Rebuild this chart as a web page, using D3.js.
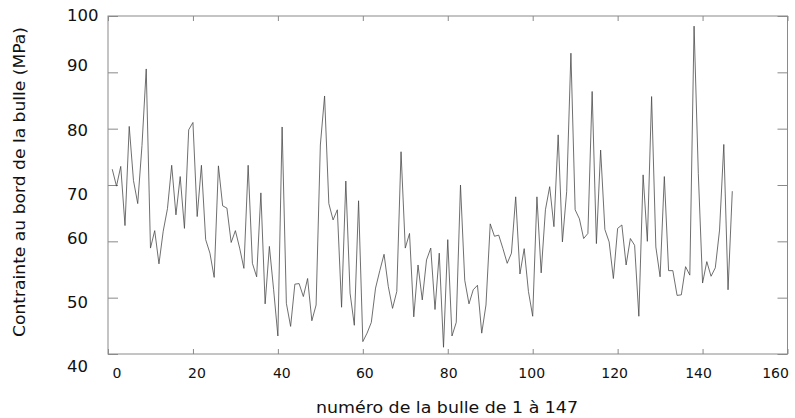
<!DOCTYPE html>
<html>
<head>
<meta charset="utf-8">
<script src="https://cdn.jsdelivr.net/npm/d3@7/dist/d3.min.js"></script>
<style>
body { margin:0; background:#fff; }
text { font-family: "DejaVu Sans", sans-serif; fill:#111; }
</style>
</head>
<body>
<script>
// contrainte mesuree pour chaque bulle (bulle 1 a 147)
var contrainte = [
    72.8, 69.8, 73.3, 62.8, 80.4, 70.8, 66.7, 77.0, 90.6, 58.8,
    61.9, 56.0, 61.8, 65.8, 73.5, 64.7, 71.5, 62.3, 79.8, 81.1,
    64.4, 73.5, 60.3, 57.9, 53.6, 73.4, 66.3, 65.9, 59.8, 61.9,
    58.8, 55.2, 73.5, 56.1, 53.7, 68.6, 48.9, 59.1, 51.4, 43.2,
    80.3, 49.0, 44.9, 52.4, 52.5, 50.2, 53.4, 45.9, 48.7, 77.1,
    85.8, 66.7, 63.8, 65.6, 48.3, 70.7, 50.8, 45.1, 67.2, 42.2,
    43.7, 45.6, 51.7, 54.8, 57.7, 52.0, 48.1, 51.1, 75.9, 58.8,
    61.4, 46.6, 55.8, 49.6, 56.7, 58.8, 47.9, 57.9, 41.2, 60.3,
    43.2, 45.6, 70.0, 53.1, 48.9, 51.4, 52.2, 43.7, 48.7, 63.1,
    60.9, 61.1, 58.7, 56.1, 57.9, 67.9, 54.2, 58.7, 51.1, 46.7,
    67.9, 54.4, 65.6, 69.7, 62.6, 78.9, 59.9, 68.8, 93.4, 65.6,
    64.0, 60.5, 61.4, 86.6, 59.6, 76.2, 62.1, 59.9, 53.4, 62.3,
    62.9, 55.8, 60.5, 59.3, 46.7, 71.8, 60.0, 85.7, 59.0, 53.7,
    71.5, 54.8, 54.8, 50.4, 50.5, 55.5, 54.0, 98.2, 72.0, 52.6,
    56.4, 53.8, 55.3, 62.0, 77.2, 51.4, 68.9
];
var xTicks = [0, 20, 40, 60, 80, 100, 120, 140, 160];
var yTicks = [100, 90, 80, 70, 60, 50, 40];
var xTitle = "numéro de la bulle de 1 à 147";
var yTitle = "Contrainte au bord de la bulle (MPa)";

var window_w = 795;
var window_h = 418;
var margin = {left:108, top:16, right:7.5, bottom:64};
var frame_w = window_w - margin.left - margin.right;
var frame_h = window_h - margin.top - margin.bottom;

// small shifts of the tick labels, as in the original plot
var xLabelShift = [9, 4, 4, 2, 1, -1, -3, -4, -12];
var yLabelShift = [-1, -7, 1, 9, -3, 4, 12];

var xScale = d3.scaleLinear().domain([0, 160]).range([0, frame_w]);
var yScale = d3.scaleLinear().domain([40, 100]).range([frame_h, 0]);

var svg = d3.select("body").append("svg")
    .attr("width", window_w)
    .attr("height", window_h);

var g_main = svg.append("g")
    .attr("transform", "translate(" + margin.left + "," + margin.top + ")");

// inward ticks on all four sides
var frameCol = "#8a8a8a";
g_main.append("g").call(d3.axisLeft(yScale).tickValues(yTicks).tickSizeInner(-10).tickSizeOuter(0).tickFormat(""));
g_main.append("g").attr("transform", "translate(" + frame_w + ",0)")
    .call(d3.axisRight(yScale).tickValues(yTicks).tickSizeInner(-10).tickSizeOuter(0).tickFormat(""));
g_main.append("g").attr("transform", "translate(0," + frame_h + ")")
    .call(d3.axisBottom(xScale).tickValues(xTicks).tickSizeInner(-5).tickSizeOuter(0).tickFormat(""));
g_main.append("g")
    .call(d3.axisTop(xScale).tickValues(xTicks).tickSizeInner(-5).tickSizeOuter(0).tickFormat(""));
g_main.selectAll(".domain").remove();
g_main.selectAll(".tick line").attr("stroke", frameCol);

g_main.append("rect")
    .attr("x", 0).attr("y", 0)
    .attr("width", frame_w).attr("height", frame_h)
    .attr("fill", "none")
    .attr("stroke", frameCol)
    .attr("stroke-width", 1);

// tick labels
g_main.selectAll(".xlab").data(xTicks).enter()
    .append("text")
    .attr("class", "xlab")
    .attr("x", (d, i) => xScale(d) + xLabelShift[i])
    .attr("y", frame_h + 24)
    .attr("text-anchor", "middle")
    .attr("font-size", 14)
    .text(d => d);

g_main.selectAll(".ylab").data(yTicks).enter()
    .append("text")
    .attr("class", "ylab")
    .attr("x", 67 - margin.left)
    .attr("y", (d, i) => yScale(d) + yLabelShift[i] + 6)
    .attr("text-anchor", "start")
    .attr("font-size", 16.5)
    .text(d => d);

// the series
var line = d3.line()
    .x((d, i) => xScale(i + 1))
    .y(d => yScale(d));

g_main.append("path")
    .datum(contrainte)
    .attr("fill", "none")
    .attr("stroke", "#4a4a4a")
    .attr("stroke-width", 0.8)
    .attr("d", line);

// axis titles
svg.append("text")
    .attr("x", 447)
    .attr("y", 413)
    .attr("text-anchor", "middle")
    .attr("font-size", 16)
    .attr("textLength", 262)
    .attr("lengthAdjust", "spacingAndGlyphs")
    .text(xTitle);

svg.append("text")
    .attr("transform", "translate(25,182) rotate(-90)")
    .attr("text-anchor", "middle")
    .attr("font-size", 16)
    .attr("textLength", 310)
    .attr("lengthAdjust", "spacingAndGlyphs")
    .text(yTitle);
</script>
</body>
</html>
